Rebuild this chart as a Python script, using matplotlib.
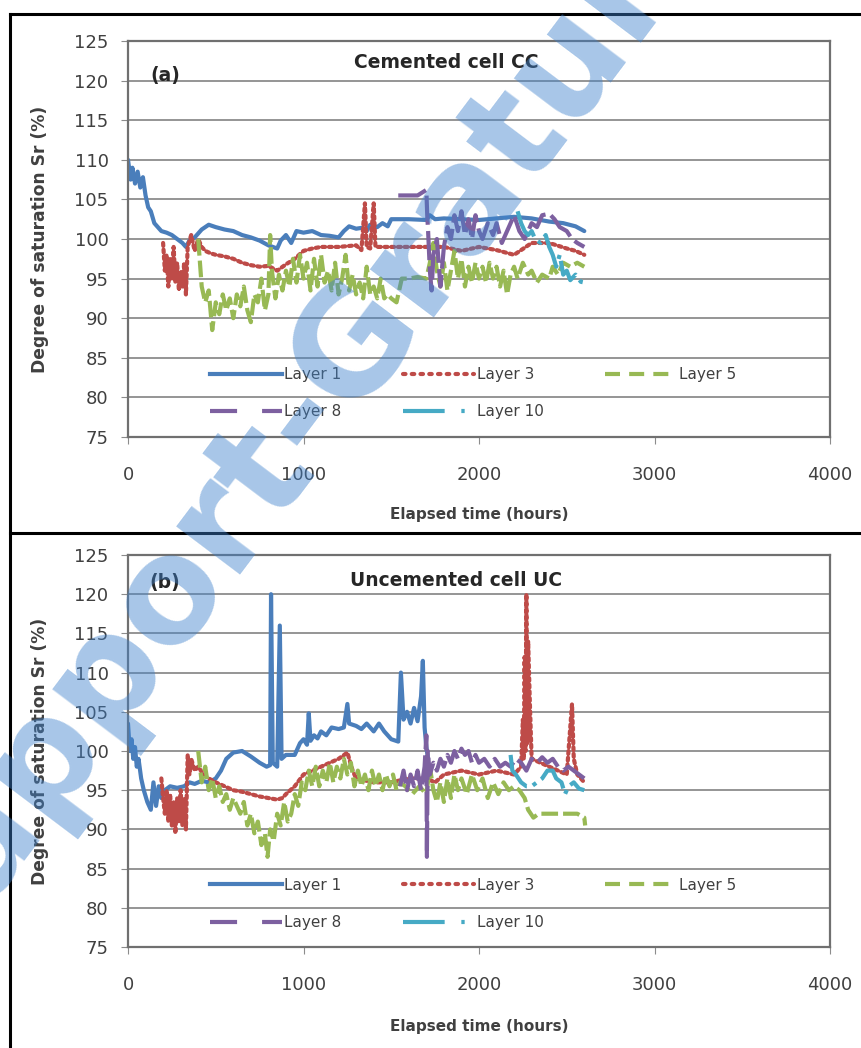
import matplotlib
matplotlib.use("Agg")
import matplotlib.pyplot as plt
from matplotlib.lines import Line2D
import numpy as np

plt.rcParams['font.family'] = ['DejaVu Sans']

# ---------------- panel (a): cemented cell CC ----------------
a_l1_t = [0, 15, 25, 40, 55, 70, 85, 100, 115, 130, 150, 170, 190, 220, 250, 280, 310, 330, 350, 380,
          420, 460, 500, 550, 600, 650, 700, 750, 800, 850, 870, 900, 930, 960, 1000, 1050, 1100, 1150,
          1200, 1230, 1260, 1300, 1330, 1360, 1380, 1420, 1450, 1480, 1500, 1600, 1700, 1720, 1750, 1800,
          1900, 2000, 2100, 2200, 2300, 2400, 2480, 2550, 2600]
a_l1_y = [110, 107.5, 109, 107, 108.5, 106.5, 107.8, 105.5, 104, 103.5, 102, 101.5, 101, 100.8, 100.5, 100,
          99.5, 99, 99.8, 100.2, 101.2, 101.8, 101.5, 101.2, 101, 100.5, 100.2, 99.8, 99.2, 98.8, 99.8,
          100.5, 99.5, 101, 100.8, 101, 100.5, 100.4, 100.2, 101, 101.6, 101.3, 101.4, 101, 101.8, 101.5,
          102, 101.6, 102.5, 102.5, 102.4, 103, 102.5, 102.6, 102.5, 102.4, 102.6, 102.8, 102.6, 102.2,
          102, 101.6, 101]

a_l3_t = [200, 210, 220, 230, 240, 250, 260, 270, 280, 290, 300, 310, 320, 330, 340, 360, 380, 400, 420,
          440, 470, 500, 550, 600, 650, 700, 750, 800, 850, 900, 950, 1000, 1050, 1100, 1200, 1300, 1330,
          1350, 1360, 1380, 1400, 1410, 1450, 1500, 1600, 1700, 1750, 1800, 1900, 2000, 2100, 2200, 2300,
          2400, 2500, 2550, 2600]
a_l3_y = [99.5, 96, 98, 94, 97.5, 95, 99, 94.5, 97, 93.5, 96, 94, 97, 93, 99, 100.5, 98.5, 100, 99, 98.5,
          98.2, 98, 97.8, 97.5, 97, 96.7, 96.5, 96.6, 96, 96.8, 97.5, 98.5, 98.8, 99, 99, 99.2, 98.6, 104.5,
          99, 98.8, 104.5, 99, 99, 99, 99, 99, 99, 99, 98.5, 99, 98.6, 98, 99.5, 99.5, 98.8, 98.5, 98]

a_l5_t = [400, 410, 420, 440, 460, 480, 500, 520, 540, 560, 580, 600, 620, 640, 660, 680, 700, 720, 740,
          760, 780, 800, 810, 820, 840, 860, 880, 900, 920, 940, 960, 980, 1000, 1020, 1040, 1060, 1080,
          1100, 1120, 1140, 1160, 1180, 1200, 1220, 1240, 1260, 1280, 1300, 1320, 1340, 1360, 1380, 1400,
          1420, 1440, 1460, 1480, 1500, 1530, 1560, 1600, 1650, 1700, 1720, 1740, 1760, 1780, 1800, 1820,
          1840, 1860, 1880, 1900, 1920, 1940, 1960, 1980, 2000, 2020, 2040, 2060, 2080, 2100, 2120, 2140,
          2160, 2180, 2200, 2220, 2250, 2280, 2300, 2330, 2360, 2400, 2420, 2450, 2480, 2520, 2560, 2600]
a_l5_y = [100, 97, 94, 92, 93.5, 88.5, 92, 90.5, 93, 91, 92.5, 90, 93, 91.5, 94, 91, 89.5, 93, 92, 95, 91,
          93, 100.5, 96, 92.5, 95.5, 93.5, 96, 94, 97.5, 94.5, 98, 95, 97, 93.5, 97.5, 94, 98, 94.5, 96,
          93.5, 97, 93, 95, 98, 93.5, 95.5, 93, 94.5, 92.5, 96.5, 93, 94, 92.5, 95, 92.5, 93, 92.5, 92, 95,
          95, 95.2, 95, 97, 99.5, 96, 94, 97, 93.5, 96, 98.5, 95, 97.5, 94, 96.5, 94.5, 97, 95, 96.5, 94.5,
          97, 95, 96.5, 94, 96, 93, 95.5, 96.5, 95, 97, 95.5, 96, 94.5, 95.5, 95, 96.5, 95.5, 97, 96.5, 97,
          96.5]

a_l8_t = [1540, 1650, 1700, 1705, 1710, 1720, 1730, 1740, 1760, 1780, 1800, 1820, 1840, 1860, 1880, 1900,
          1920, 1940, 1960, 1980, 2000, 2020, 2050, 2080, 2100, 2130, 2160, 2200, 2230, 2260, 2300, 2330,
          2360, 2400, 2430, 2460, 2500, 2530, 2560, 2600]
a_l8_y = [105.5, 105.5, 106.2, 103, 101, 96, 93.5, 98, 100, 94, 99, 101.5, 100, 103, 101, 103.5, 100.5,
          102.5, 100, 103, 101, 100, 102, 100.5, 102, 99.5, 101, 103, 101, 100, 102, 101.5, 103, 103.2,
          102.5, 101.5, 101, 100, 99.5, 99]

a_l10_t = [2220, 2240, 2260, 2280, 2300, 2320, 2350, 2380, 2400, 2420, 2440, 2460, 2480, 2500, 2520, 2550,
           2580, 2600]
a_l10_y = [103.5, 102, 101, 100.5, 101, 100, 99.5, 100.5, 99, 98, 96.5, 98, 95.5, 96, 94.8, 95.5, 94.6,
           94.5]

# ---------------- panel (b): uncemented cell UC ----------------
b_l1_t = [0, 10, 20, 30, 40, 50, 60, 75, 90, 110, 130, 145, 160, 175, 190, 210, 240, 280, 320, 350, 380,
          420, 460, 500, 530, 560, 600, 650, 700, 750, 790, 810, 815, 825, 850, 865, 875, 900, 950, 980,
          1000, 1020, 1030, 1040, 1060, 1080, 1100, 1130, 1160, 1200, 1230, 1250, 1260, 1300, 1330, 1360,
          1400, 1430, 1460, 1500, 1540, 1555, 1570, 1590, 1610, 1630, 1650, 1670, 1680, 1690, 1700, 1710]
b_l1_y = [103.5, 100, 101.5, 99, 100.5, 98, 99, 96.5, 95, 93.5, 92.5, 96, 93, 95.5, 94, 95, 95.5, 95.3,
          95.5, 96, 95.8, 96.2, 96, 96.5, 97.5, 99, 99.8, 100, 99.3, 98.5, 98, 98.2, 120, 98.5, 98, 116, 99,
          99.5, 99.5, 101, 101.5, 100.8, 104.8, 101.3, 102, 101.6, 102.5, 102, 103, 102.8, 103, 106, 103.5,
          103.2, 102.8, 103.5, 102.5, 103.5, 102.5, 101.5, 101.2, 110, 104, 105, 103.5, 105.5, 103.8, 107,
          111.5, 103, 100.5, 99]

b_l3_t = [190, 200, 210, 220, 230, 240, 250, 260, 270, 280, 290, 300, 310, 320, 330, 340, 350, 360, 380,
          400, 430, 460, 500, 550, 600, 650, 700, 750, 800, 850, 880, 900, 950, 1000, 1050, 1100, 1150,
          1200, 1250, 1280, 1300, 1400, 1500, 1600, 1700, 1750, 1800, 1900, 2000, 2100, 2200, 2240, 2250,
          2255, 2260, 2265, 2270, 2275, 2280, 2290, 2300, 2350, 2400, 2450, 2500, 2510, 2520, 2530, 2540,
          2560, 2600]
b_l3_y = [96.5, 94, 92, 95, 91, 94.5, 90.5, 93.5, 89.5, 94, 91, 95, 90.5, 94, 90, 99.5, 97, 99, 97.5, 98,
          97, 96.5, 96, 95.5, 95, 94.8, 94.5, 94.2, 94, 93.8, 94, 94.5, 95.5, 97, 97.5, 98, 98.5, 99, 99.8,
          97.5, 96.5, 96, 96, 96.5, 96.5, 96, 97, 97.5, 97, 97.5, 97, 98, 104, 99, 112, 100, 120, 101, 114,
          106, 99, 98.5, 98, 97.5, 97, 100, 103, 106, 99, 97, 96]

b_l5_t = [400, 420, 440, 460, 480, 500, 520, 540, 560, 580, 600, 620, 640, 660, 680, 700, 720, 740, 760,
          780, 795, 810, 830, 850, 870, 890, 910, 930, 950, 970, 990, 1010, 1030, 1050, 1070, 1090, 1110,
          1130, 1150, 1170, 1190, 1210, 1230, 1250, 1270, 1290, 1310, 1330, 1350, 1370, 1390, 1410, 1430,
          1450, 1470, 1490, 1510, 1530, 1550, 1580, 1620, 1660, 1700, 1720, 1740, 1760, 1780, 1800, 1820,
          1840, 1860, 1880, 1900, 1930, 1960, 1990, 2020, 2050, 2080, 2110, 2140, 2170, 2200, 2230, 2260,
          2280, 2310, 2340, 2380, 2450, 2500, 2560, 2600, 2605]
b_l5_y = [100, 96, 98, 95, 96.5, 94, 95.5, 93.5, 94.5, 92.5, 94, 93, 92, 93.5, 90.5, 92, 89.5, 91, 88,
          89.5, 86.5, 90, 88.5, 92, 90.5, 93.5, 91, 92, 94.5, 93, 96, 95, 97.5, 95.5, 98, 95.5, 97.5, 96,
          98.5, 96, 98, 96.5, 99, 97, 98.5, 95.5, 97.5, 95.5, 97, 95, 97.5, 95.5, 97, 95, 97, 95.5, 97, 95,
          96, 95.5, 94.5, 95.5, 94.5, 98, 95, 93.5, 96, 93.5, 96.5, 94, 97, 95, 96.5, 94.5, 97, 95, 96.5,
          94, 96, 94.5, 96, 95, 95.5, 95, 94, 92.5, 91.5, 92, 92, 92, 92, 92, 91.5, 90.5]

b_l8_t = [1550, 1570, 1590, 1610, 1630, 1650, 1670, 1690, 1700, 1703, 1708, 1720, 1740, 1760, 1780, 1800,
          1820, 1840, 1860, 1880, 1900, 1920, 1940, 1960, 1980, 2000, 2030, 2060, 2090, 2120, 2150, 2180,
          2210, 2240, 2270, 2300, 2330, 2360, 2390, 2420, 2450, 2480, 2510, 2540, 2570, 2600]
b_l8_y = [95.5, 97.5, 95, 97, 95.5, 97.5, 95, 98, 102, 86.5, 100, 97, 98.5, 97.5, 99, 98, 99.5, 98.5, 100,
          99, 100.3, 99.5, 100, 98.5, 99.5, 98.5, 99, 98, 99, 98, 98.5, 98, 99, 98.5, 97.5, 99, 98.5, 99.2,
          98.5, 99, 98, 97.5, 98, 97.5, 97, 96.5]

b_l10_t = [2180, 2190, 2210, 2240, 2270, 2300, 2330, 2360, 2390, 2420, 2440, 2470, 2490, 2510, 2540, 2570,
           2600]
b_l10_y = [99.5, 97.5, 97, 96, 95.5, 95.5, 96, 96.5, 97.5, 97.5, 96.5, 96, 94.5, 95.5, 96, 95.2, 95]

layer_names = ['Layer 1', 'Layer 3', 'Layer 5', 'Layer 8', 'Layer 10']
colors = ['#4a7ebb', '#be4b48', '#98b954', '#7d60a0', '#46aac5']
# dense dashes for the noisy data, the legend keys show the full pattern
data_styles = ['-', (0, (0.7, 0.9)), (0, (4, 1.2)), (0, (7, 1.5)), (0, (9, 1.5, 1, 1.5))]
key_styles = ['-', (0, (0.6, 1.5)), (0, (3.6, 2.2)), (0, (6.5, 6)), (0, (10, 4, 0.8, 4))]

panels = [
    dict(series=[(a_l1_t, a_l1_y), (a_l3_t, a_l3_y), (a_l5_t, a_l5_y), (a_l8_t, a_l8_y), (a_l10_t, a_l10_y)],
         title='Cemented cell CC', tag='(a)', rect=[128 / 861, 1 - 437 / 1048, 702 / 861, 396 / 1048],
         title_xy=(0.453, 0.945), tag_xy=(0.053, 0.914), xlab_y=-0.176),
    dict(series=[(b_l1_t, b_l1_y), (b_l3_t, b_l3_y), (b_l5_t, b_l5_y), (b_l8_t, b_l8_y), (b_l10_t, b_l10_y)],
         title='Uncemented cell UC', tag='(b)', rect=[128 / 861, 1 - 947 / 1048, 702 / 861, 392 / 1048],
         title_xy=(0.467, 0.936), tag_xy=(0.053, 0.929), xlab_y=-0.184),
]

fig = plt.figure(figsize=(8.61, 10.48), dpi=100)
txt = '#404040'

for p in panels:
    ax = fig.add_axes(p['rect'])
    keys = []
    for (t, y), name, c, ls, ks in zip(p['series'], layer_names, colors, data_styles, key_styles):
        round_cap = 'round' if name == 'Layer 3' else 'butt'
        ax.plot(t, y, color=c, linestyle=ls, lw=3, dash_capstyle=round_cap, solid_capstyle='round')
        keys.append(Line2D([], [], color=c, linestyle=ks, lw=3, dash_capstyle=round_cap))
    ax.set_xlim(0, 4000)
    ax.set_ylim(75, 125)
    ax.set_xticks([0, 1000, 2000, 3000, 4000])
    ax.set_yticks(np.arange(75, 126, 5))
    ax.yaxis.grid(True, color='#8c8c8c', lw=1.3)
    ax.set_axisbelow(True)
    for s in ax.spines.values():
        s.set_color('#707070')
        s.set_linewidth(1.6)
    ax.tick_params(axis='both', direction='out', length=5, color='#8c8c8c', labelsize=13,
                   labelcolor=txt)
    ax.tick_params(axis='x', pad=16)
    ax.tick_params(axis='y', pad=9)
    ax.set_xlabel('Elapsed time (hours)', fontsize=11, fontweight='bold', color=txt)
    ax.xaxis.set_label_coords(0.5, p['xlab_y'])
    ax.set_ylabel('Degree of saturation Sr (%)', fontsize=12.3, fontweight='bold', color=txt)
    ax.yaxis.set_label_coords(-0.112, 0.5)
    ax.text(*p['title_xy'], p['title'], transform=ax.transAxes, ha='center', va='center',
            fontsize=13.5, fontweight='bold', color='#262626')
    ax.text(*p['tag_xy'], p['tag'], transform=ax.transAxes, ha='center', va='center',
            fontsize=13.5, fontweight='bold', color='#262626')
    order = [0, 3, 1, 4, 2]
    leg = ax.legend([keys[i] for i in order], [layer_names[i] for i in order], ncol=3,
                    loc='upper left', bbox_to_anchor=(0.117, 0.177), frameon=False, fontsize=11,
                    handlelength=4.7, handletextpad=0.15, columnspacing=4.0, labelspacing=1.46,
                    borderpad=0, borderaxespad=0)
    for tx in leg.get_texts():
        tx.set_color(txt)

# outer frame of the two panels
for xs, ys in [([10 / 861, 10 / 861], [0, 1 - 14 / 1048]),
               ([10 / 861, 1], [1 - 14 / 1048, 1 - 14 / 1048]),
               ([10 / 861, 1], [1 - 533 / 1048, 1 - 533 / 1048])]:
    fig.add_artist(Line2D(xs, ys, color='black', lw=2.2, transform=fig.transFigure))

# watermark across the picture
fig.text(395 / 861, 1 - 285 / 1048, 'Rapport-Gratuit.com', rotation=53, rotation_mode='anchor',
         ha='center', va='center', fontsize=105, fontweight='bold', color='#3e81cc', alpha=0.45,
         zorder=10)

fig.savefig('out.png', dpi=100)
